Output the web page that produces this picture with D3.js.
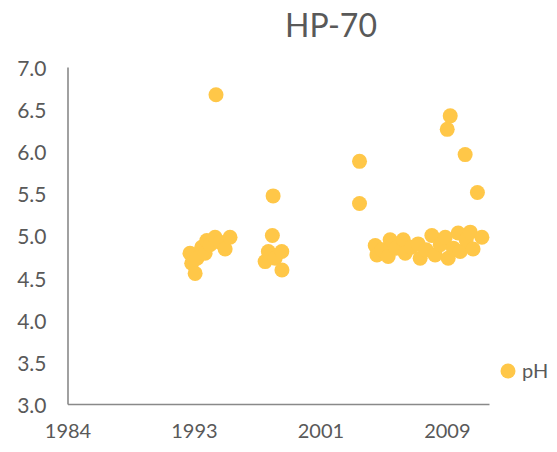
<!DOCTYPE html>
<html>
<head>
<meta charset="utf-8">
<script src="https://cdn.jsdelivr.net/npm/d3@7/dist/d3.min.js"></script>
<style>
  html, body { margin: 0; padding: 0; background: #ffffff; }
  svg { display: block; font-family: Lato, "Open Sans", sans-serif; }
</style>
</head>
<body>
<svg id="chart" width="557" height="452"></svg>
<script>
// Sampling dates and measured pH at well HP-70
const sampleDates = [
  "1992-10-29", "1992-12-09", "1993-02-28", "1993-04-15", "1993-08-03",
  "1993-10-22", "1993-12-02", "1994-02-17", "1994-06-16", "1994-07-08",
  "1994-10-12", "1995-02-10", "1995-06-06",
  "1997-09-16", "1997-12-02", "1998-03-06", "1998-03-24", "1998-05-11",
  "1998-10-15", "1998-10-20",
  "2003-11-03", "2003-11-03",
  "2004-11-10", "2004-12-20", "2005-04-22", "2005-09-13", "2005-10-29",
  "2006-03-20", "2006-09-06", "2006-10-22", "2007-03-13", "2007-08-25",
  "2007-10-12", "2008-03-02", "2008-07-15", "2008-10-01", "2009-01-30",
  "2009-05-29", "2009-07-15", "2009-08-07", "2009-09-24", "2009-12-06",
  "2010-04-01", "2010-05-18", "2010-09-13", "2010-10-08", "2011-01-12",
  "2011-03-20", "2011-07-01", "2011-10-15"
];
const phValues = [
  4.79, 4.67, 4.55, 4.73, 4.86,
  4.79, 4.94, 4.89, 4.98, 6.67,
  4.92, 4.84, 4.98,
  4.69, 4.81, 5.00, 5.47, 4.73,
  4.81, 4.59,
  5.88, 5.38,
  4.88, 4.77, 4.83, 4.75, 4.95,
  4.85, 4.95, 4.79, 4.86, 4.90,
  4.73, 4.83, 5.00, 4.77, 4.89,
  4.98, 6.26, 4.73, 6.42, 4.85,
  5.03, 4.81, 5.96, 4.95, 5.04,
  4.84, 5.51, 4.98
];
const seriesName = "pH";
const chartTitle = "HP-70";

// Date-axis range and tick dates (labelled by year)
const xDomainDates = ["1984-11-14", "2012-04-01"];
const xTickDates = ["1984-11-14", "1993-01-30", "2001-04-19", "2009-07-06"];
const yDomain = [3, 7];
const yTicks = [3.0, 3.5, 4.0, 4.5, 5.0, 5.5, 6.0, 6.5, 7.0];

const parse = d3.timeParse("%Y-%m-%d");
const data = sampleDates.map((d, i) => ({ date: parse(d), ph: phValues[i] }));

const svg = d3.select("#chart");
const plot = { left: 67.5, right: 489, top: 67, bottom: 404 };

const x = d3.scaleTime()
  .domain(xDomainDates.map(parse))
  .range([plot.left, plot.right]);
const y = d3.scaleLinear()
  .domain(yDomain)
  .range([plot.bottom, plot.top]);

const axisColor = "#898989";
const textColor = "#595959";
const markColor = "#FFC748";

// Title
svg.append("text")
  .attr("x", 331)
  .attr("y", 37)
  .attr("text-anchor", "middle")
  .attr("fill", textColor)
  .style("font-size", "32px")
  .text(chartTitle);

// Y axis
const yAxis = svg.append("g")
  .attr("transform", `translate(${plot.left},0)`)
  .call(d3.axisLeft(y).tickValues(yTicks).tickSize(0).tickSizeOuter(0)
    .tickPadding(21).tickFormat(d3.format(".1f")));
yAxis.select(".domain").attr("stroke", axisColor).attr("stroke-width", 1.6);
yAxis.selectAll("text")
  .attr("fill", textColor)
  .style("font-size", "21px")
  .style("font-family", "Lato, 'Open Sans', sans-serif")
  .attr("dy", "0.4em");

// X axis
const xAxis = svg.append("g")
  .attr("transform", `translate(0,${plot.bottom})`)
  .call(d3.axisBottom(x).tickValues(xTickDates.map(parse)).tickSize(0).tickSizeOuter(0)
    .tickPadding(20).tickFormat(d3.timeFormat("%Y")));
xAxis.select(".domain").attr("stroke", axisColor).attr("stroke-width", 1.6);
xAxis.selectAll("text")
  .attr("fill", textColor)
  .style("font-size", "20px")
  .style("font-family", "Lato, 'Open Sans', sans-serif");

// Points
svg.append("g")
  .selectAll("circle")
  .data(data)
  .join("circle")
  .attr("cx", d => x(d.date))
  .attr("cy", d => y(d.ph))
  .attr("r", 7.5)
  .attr("fill", markColor);

// Legend
const legend = svg.append("g").attr("transform", "translate(508,371)");
legend.append("circle").attr("r", 7.5).attr("fill", markColor);
legend.append("text")
  .attr("x", 14)
  .attr("dy", "0.36em")
  .attr("fill", textColor)
  .style("font-size", "20px")
  .text(seriesName);
</script>
</body>
</html>
